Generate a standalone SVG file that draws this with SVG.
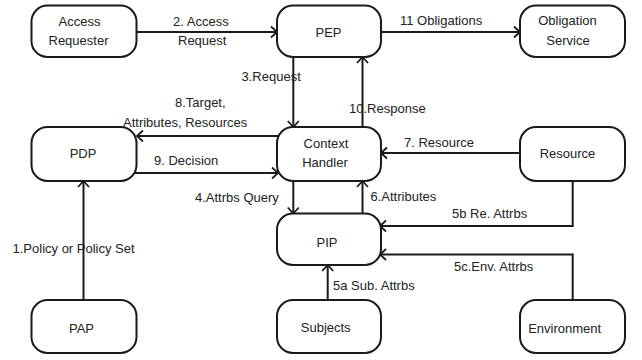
<svg xmlns="http://www.w3.org/2000/svg" width="642" height="360" viewBox="0 0 642 360">
<style>
.n rect{fill:#fff;stroke:#1a1a1a;stroke-width:2}
text{font-family:"Liberation Sans",Arial,sans-serif;font-size:13px;fill:#222}
.n text{text-anchor:middle}
.c path{fill:none;stroke:#1a1a1a;stroke-width:2}
</style>
<defs>
<marker id="a" markerUnits="userSpaceOnUse" markerWidth="10" markerHeight="14" refX="8" refY="7" orient="auto" overflow="visible">
<path d="M2,1.5 L8,7 L2,12.5" fill="none" stroke="#1a1a1a" stroke-width="1.8"/>
</marker>
</defs>
<rect width="642" height="360" fill="#fff"/>
<g class="c">
<path d="M137,32 H277" marker-end="url(#a)"/>
<path d="M381,32 H520" marker-end="url(#a)"/>
<path d="M293.3,57 V127" marker-end="url(#a)"/>
<path d="M362.5,127 V57" marker-end="url(#a)"/>
<path d="M280,136 H137" marker-end="url(#a)"/>
<path d="M135,173 H278" marker-end="url(#a)"/>
<path d="M293.3,181 V213.5" marker-end="url(#a)"/>
<path d="M362.5,213.5 V181" marker-end="url(#a)"/>
<path d="M520,153 H381" marker-end="url(#a)"/>
<path d="M572.7,181 V226 H380" marker-end="url(#a)"/>
<path d="M572.7,300 V254.5 H380" marker-end="url(#a)"/>
<path d="M327.7,300 V265" marker-end="url(#a)"/>
<path d="M83.5,300 V181" marker-end="url(#a)"/>
</g>
<g id="labels">
<text x="173" y="26">2. Access</text>
<text x="178" y="45">Request</text>
<text x="400" y="25">11 Obligations</text>
<text x="241.5" y="81">3.Request</text>
<text x="349" y="112.5">10.Response</text>
<text x="175" y="106.5">8.Target,</text>
<text x="123" y="126.5">Attributes, Resources</text>
<text x="154" y="165">9. Decision</text>
<text x="404" y="146.5">7. Resource</text>
<text x="195" y="201.5">4.Attrbs Query</text>
<text x="370.5" y="200.5">6.Attributes</text>
<text x="452" y="218">5b Re. Attrbs</text>
<text x="12.5" y="253">1.Policy or Policy Set</text>
<text x="454" y="271">5c.Env. Attrbs</text>
<text x="333" y="290">5a Sub. Attrbs</text>
</g>
<g id="access-requester" class="n"><rect x="31.5" y="5.5" width="105" height="51.5" rx="16"/><text x="79.5" y="26">Access</text><text x="78.5" y="45">Requester</text></g>
<g id="pep" class="n"><rect x="277" y="5.5" width="104" height="51.5" rx="16"/><text x="328.5" y="37">PEP</text></g>
<g id="obligation-service" class="n"><rect x="520" y="5.5" width="105" height="51.5" rx="16"/><text x="567.5" y="25">Obligation</text><text x="568" y="45">Service</text></g>
<g id="pdp" class="n"><rect x="31.5" y="127" width="105" height="54" rx="16"/><text x="83" y="158">PDP</text></g>
<g id="context-handler" class="n"><rect x="277" y="127" width="104" height="54" rx="16"/><text x="326" y="148">Context</text><text x="325" y="167">Handler</text></g>
<g id="resource" class="n"><rect x="520" y="127" width="105" height="54" rx="16"/><text x="567.5" y="158">Resource</text></g>
<g id="pip" class="n"><rect x="277" y="213.5" width="104" height="51.5" rx="16"/><text x="327" y="247">PIP</text></g>
<g id="pap" class="n"><rect x="31.5" y="300" width="105" height="53" rx="16"/><text x="81.5" y="332.5">PAP</text></g>
<g id="subjects" class="n"><rect x="277" y="300" width="104" height="53" rx="16"/><text x="325.7" y="332">Subjects</text></g>
<g id="environment" class="n"><rect x="520" y="300" width="105" height="53" rx="16"/><text x="564.7" y="332.5">Environment</text></g>
</svg>
